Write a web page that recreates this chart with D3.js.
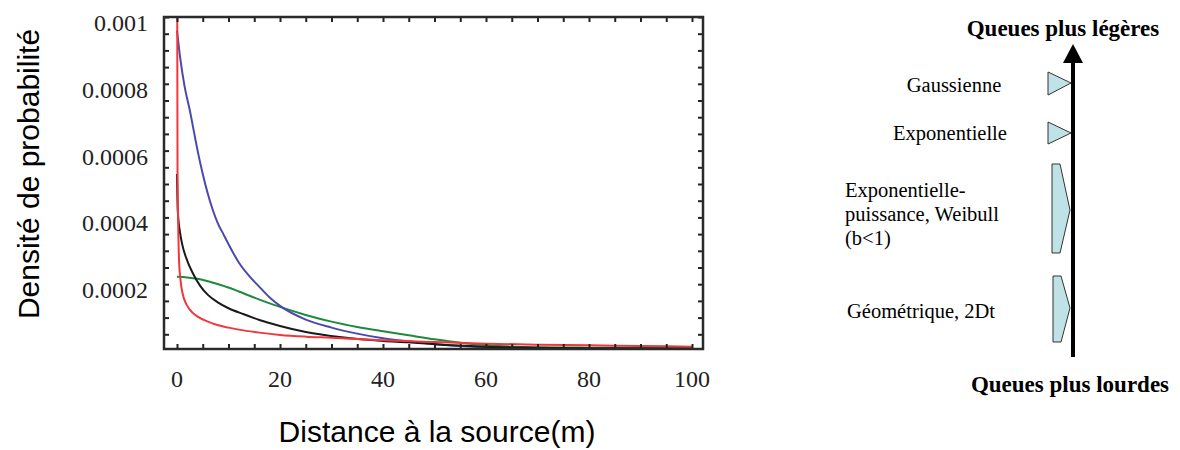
<!DOCTYPE html>
<html>
<head>
<meta charset="utf-8">
<style>
body { margin:0; background:#ffffff; }
svg { display:block; }
.tick-lab { font-family:"Liberation Serif", "Times New Roman", serif; font-size:24px; fill:#222; }
.ax-title { font-family:"Liberation Sans", Arial, sans-serif; font-size:30px; fill:#000; }
.diag { font-family:"Liberation Serif", "Times New Roman", serif; font-size:20.5px; fill:#000; }
.diag-title { font-family:"Liberation Serif", "Times New Roman", serif; font-size:23px; font-weight:bold; fill:#000; }
</style>
<script src="https://cdnjs.cloudflare.com/ajax/libs/d3/7.8.5/d3.min.js"></script>
</head>
<body>
<svg id="chart" width="1180" height="450"></svg>
<script>
// tick labels
var xTickVals = [0, 20, 40, 60, 80, 100];
var xTickLabels = ["0", "20", "40", "60", "80", "100"];
var yTickVals = [0.0002, 0.0004, 0.0006, 0.0008, 0.001];
var yTickLabels = ["0.0002", "0.0004", "0.0006", "0.0008", "0.001"];

// curves (distance in m, density)
var redX = [0, 0.1, 0.2, 0.4, 0.7, 1, 2, 3, 4, 6, 8, 10, 12, 16, 20, 25, 30, 40, 50, 60, 70, 80, 90, 100];
var redY = [0.0014, 0.00055, 0.00041, 0.00027, 0.00021, 0.000178, 0.000135, 0.000115, 0.000103, 0.000088, 0.000077, 0.00007, 0.000064, 0.000055, 0.000048, 0.000043, 0.00004, 0.000032, 0.000027, 0.000022, 0.000019, 0.000017, 0.000015, 0.000013];

var blackX = [0, 0.15, 0.6, 1, 2, 3, 4.5, 6, 8, 10, 13, 16, 20, 25, 32, 40, 45, 50, 60, 70, 80, 100];
var blackY = [0.00053, 0.00042, 0.000354, 0.00032, 0.00027, 0.000235, 0.000195, 0.000168, 0.000145, 0.000128, 0.00011, 0.000093, 0.000075, 0.000057, 0.000041, 0.00003, 0.000026, 0.00002, 0.000013, 0.00001, 0.000008, 0.000007];

var blueX = [0, 0.6, 1.5, 2.5, 3, 4, 5, 6, 7, 8, 9, 10, 12, 14, 16, 18, 20, 25, 30, 35, 40, 48, 55, 60, 70, 80, 100];
var blueY = [0.00096, 0.00088, 0.00079, 0.00072, 0.00068, 0.0006, 0.00053, 0.00047, 0.00042, 0.00038, 0.00035, 0.00032, 0.000265, 0.000225, 0.000192, 0.00016, 0.000135, 0.000094, 0.00007, 0.000052, 0.000038, 0.000024, 0.000015, 0.000011, 0.000008, 0.000007, 0.000006];

var greenX = [0, 2, 4, 6, 8, 10, 12, 16, 20, 25, 30, 35, 40, 45, 50, 55, 60, 67, 80, 100];
var greenY = [0.000222, 0.00022, 0.000216, 0.000209, 0.0002, 0.00019, 0.000178, 0.000154, 0.000132, 0.000108, 0.000088, 0.000072, 0.000059, 0.000047, 0.000035, 0.000025, 0.000018, 0.000012, 0.00001, 0.000009];

// right-hand schematic
var diagTop = "Queues plus légères";
var diagBottom = "Queues plus lourdes";
var diagLabels = [["Gaussienne"], ["Exponentielle"], ["Exponentielle-", "puissance, Weibull", "(b<1)"], ["Géométrique, 2Dt"]];

var svg = d3.select("#chart");

var x = d3.scaleLinear().domain([0, 100]).range([177, 692]);
var y = d3.scaleLinear().domain([0, 0.001]).range([351, 17]);

var frame = {left: 164, right: 703, top: 17, bottom: 349};

// clip
svg.append("clipPath").attr("id", "plotclip").append("rect")
	.attr("x", frame.left).attr("y", frame.top)
	.attr("width", frame.right - frame.left).attr("height", frame.bottom - frame.top);

// curves
var line = d3.line().x(function(d) { return x(d[0]); }).y(function(d) { return y(d[1]); }).curve(d3.curveMonotoneX);
var series = [
	{xs: greenX, ys: greenY, color: "#1e8a3c"},
	{xs: blueX, ys: blueY, color: "#4a4aae"},
	{xs: blackX, ys: blackY, color: "#1a1a1a"},
	{xs: redX, ys: redY, color: "#f0383c"}
];
svg.append("g").attr("clip-path", "url(#plotclip)").selectAll("path").data(series).enter().append("path")
	.attr("fill", "none")
	.attr("stroke", function(d) { return d.color; })
	.attr("stroke-width", 2)
	.attr("d", function(d) { return line(d3.zip(d.xs, d.ys)); });

// inward ticks on four sides
var xMinor = d3.range(0, 101, 5);
var yMinor = d3.range(1, 21).map(function(i) { return i * 0.00005; });

svg.append("g").attr("transform", "translate(0," + frame.bottom + ")")
	.call(d3.axisBottom(x).tickValues(xMinor).tickSize(-5).tickFormat(""));
svg.append("g").attr("transform", "translate(0," + frame.top + ")")
	.call(d3.axisTop(x).tickValues(xMinor).tickSize(-5).tickFormat(""));
svg.append("g").attr("transform", "translate(" + frame.left + ",0)")
	.call(d3.axisLeft(y).tickValues(yMinor).tickSize(-5).tickFormat(""));
svg.append("g").attr("transform", "translate(" + frame.right + ",0)")
	.call(d3.axisRight(y).tickValues(yMinor).tickSize(-5).tickFormat(""));
svg.selectAll(".domain").remove();
svg.selectAll(".tick line").attr("stroke", "#222").attr("stroke-width", 2);

// frame
svg.append("rect")
	.attr("x", frame.left).attr("y", frame.top)
	.attr("width", frame.right - frame.left).attr("height", frame.bottom - frame.top)
	.attr("fill", "none").attr("stroke", "#2a2a2a").attr("stroke-width", 2.5);

// tick labels
svg.selectAll(".xlab").data(xTickVals).enter().append("text")
	.attr("class", "tick-lab")
	.attr("x", function(d) { return x(d); })
	.attr("y", 379)
	.attr("text-anchor", "middle")
	.attr("dominant-baseline", "central")
	.text(function(d, i) { return xTickLabels[i]; });

svg.selectAll(".ylab").data(yTickVals).enter().append("text")
	.attr("class", "tick-lab")
	.attr("x", 148)
	.attr("y", function(d) { return y(d) + 6; })
	.attr("text-anchor", "end")
	.attr("dominant-baseline", "central")
	.text(function(d, i) { return yTickLabels[i]; });

// axis titles
svg.append("text").attr("class", "ax-title")
	.attr("transform", "translate(28,174)rotate(-90)")
	.attr("text-anchor", "middle")
	.attr("dominant-baseline", "central")
	.text("Densité de probabilité");
svg.append("text").attr("class", "ax-title")
	.attr("x", 437).attr("y", 442)
	.attr("text-anchor", "middle")
	.text("Distance à la source(m)");

// schematic: arrow
var diag = svg.append("g");
diag.append("line").attr("x1", 1073).attr("x2", 1073).attr("y1", 357).attr("y2", 58)
	.attr("stroke", "#000").attr("stroke-width", 4);
diag.append("path").attr("d", "M1063,63 L1073,44 L1083,63 Z").attr("fill", "#000");

diag.append("text").attr("class", "diag-title").attr("x", 1063).attr("y", 28)
	.attr("text-anchor", "middle").attr("dominant-baseline", "central").text(diagTop);
diag.append("text").attr("class", "diag-title").attr("x", 1070).attr("y", 384)
	.attr("text-anchor", "middle").attr("dominant-baseline", "central").text(diagBottom);

var shapes = [
	[[1048, 72], [1071, 83], [1048, 95]],
	[[1048, 122], [1071, 133], [1048, 144]],
	[[1052, 164], [1060, 164], [1070, 210], [1060, 253], [1052, 253]],
	[[1053, 276], [1061, 276], [1070, 308], [1061, 342], [1053, 342]]
];
diag.selectAll(".shape").data(shapes).enter().append("path")
	.attr("d", function(d) { return "M" + d.join("L") + "Z"; })
	.attr("fill", "#bfe2e6").attr("stroke", "#333").attr("stroke-width", 1);

var labelPos = [
	{x: 954, y: 85, anchor: "middle"},
	{x: 950, y: 133, anchor: "middle"},
	{x: 845, y: 190, anchor: "start"},
	{x: 847, y: 311, anchor: "start"}
];
diagLabels.forEach(function(lines, i) {
	lines.forEach(function(s, j) {
		diag.append("text").attr("class", "diag")
			.attr("x", labelPos[i].x).attr("y", labelPos[i].y + j * 24)
			.attr("text-anchor", labelPos[i].anchor)
			.attr("dominant-baseline", "central")
			.text(s);
	});
});
</script>
</body>
</html>
